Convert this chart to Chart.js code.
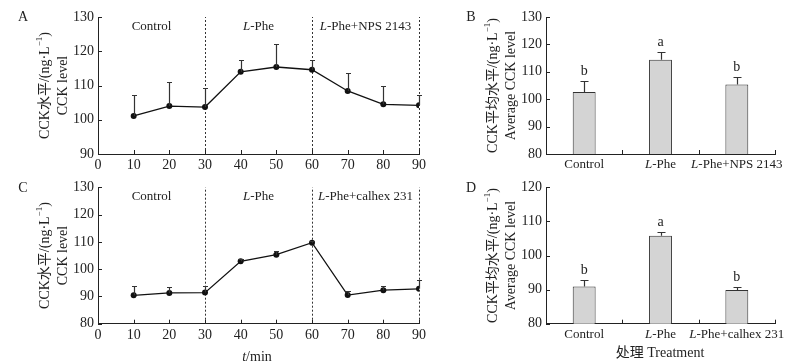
<!DOCTYPE html>
<html lang="zh-CN">
<head>
<meta charset="UTF-8">
<title>CCK level</title>
<script src="https://cdn.jsdelivr.net/npm/chart.js"></script>
<style>
  body { margin: 0; background: #fff; }
  .panel { position: absolute; }
  #boxA { left: 0; top: 0; }
  #boxB { left: 440px; top: 0; }
  #boxC { left: 0; top: 175px; }
  #boxD { left: 440px; top: 175px; }
</style>
</head>
<body>
<div class="panel" id="boxA"><canvas id="chartA" width="440" height="175"></canvas></div>
<div class="panel" id="boxB"><canvas id="chartB" width="365" height="175"></canvas></div>
<div class="panel" id="boxC"><canvas id="chartC" width="440" height="189"></canvas></div>
<div class="panel" id="boxD"><canvas id="chartD" width="365" height="189"></canvas></div>

<script>
// data
const timePoints = [10, 20, 30, 40, 50, 60, 70, 80, 90];
const npsMean = [101.1, 104.0, 103.7, 114.0, 115.4, 114.6, 108.4, 104.5, 104.2];
const npsErr = [6.2, 7.0, 5.5, 3.4, 6.6, 2.8, 5.2, 5.5, 3.1];
const calhexMean = [90.4, 91.3, 91.4, 102.9, 105.3, 109.7, 90.5, 92.3, 92.8];
const calhexErr = [3.6, 2.2, 2.6, 0.8, 1.2, 0.8, 1.5, 1.6, 3.2];

const phaseBounds = [30, 60, 90];
const phaseCenters = [15, 45, 75];
const phasesA = ['Control', 'L-Phe', 'L-Phe+NPS 2143'];
const phasesC = ['Control', 'L-Phe', 'L-Phe+calhex 231'];

const treatmentsB = ['Control', 'L-Phe', 'L-Phe+NPS 2143'];
const avgNps = [102.6, 114.4, 105.4];
const avgNpsErr = [3.9, 2.8, 2.6];
const lettersB = ['b', 'a', 'b'];

const treatmentsD = ['Control', 'L-Phe', 'L-Phe+calhex 231'];
const avgCalhex = [90.9, 105.8, 89.9];
const avgCalhexErr = [1.8, 1.1, 0.9];
const lettersD = ['b', 'a', 'b'];

const SERIF = "'Liberation Serif', 'Times New Roman', 'Noto Sans CJK SC', serif";
const INK = '#222';

// text with italic "L" in "L-Phe" and optional superscript pieces
function segmentsFor(text) {
  if (text.startsWith('L-')) return [{ t: 'L', italic: true }, { t: text.slice(1) }];
  return [{ t: text }];
}

function drawRich(ctx, segs, x, y, size, align) {
  const fontOf = s => (s.italic ? 'italic ' : '') + (s.sup ? Math.round(size * 0.65) : size) + 'px ' + SERIF;
  let total = 0;
  segs.forEach(s => { ctx.font = fontOf(s); total += ctx.measureText(s.t).width; });
  let cx = align === 'center' ? x - total / 2 : (align === 'right' ? x - total : x);
  ctx.textAlign = 'left';
  ctx.textBaseline = 'middle';
  segs.forEach(s => {
    ctx.font = fontOf(s);
    ctx.fillText(s.t, cx, s.sup ? y - size * 0.35 : y);
    cx += ctx.measureText(s.t).width;
  });
}

function drawYTitle(ctx, area, lines, xs) {
  const cy = (area.top + area.bottom) / 2;
  lines.forEach((segs, i) => {
    ctx.save();
    ctx.translate(xs[i], cy);
    ctx.rotate(-Math.PI / 2);
    drawRich(ctx, segs, 0, 0, 14, 'center');
    ctx.restore();
  });
}

// inward tick marks on both axes
function inwardTicks(chart, barEdges) {
  const ctx = chart.ctx;
  const y = chart.scales.y, x = chart.scales.x;
  const a = chart.chartArea;
  ctx.save();
  ctx.strokeStyle = INK;
  ctx.lineWidth = 1;
  ctx.beginPath();
  y.ticks.forEach(t => {
    const py = Math.round(y.getPixelForValue(t.value)) + 0.5;
    ctx.moveTo(a.left, py); ctx.lineTo(a.left + 4, py);
  });
  if (barEdges) {
    const n = chart.data.labels.length;
    for (let i = 1; i <= n; i++) {
      const px = Math.round(x.getPixelForValue(i - 0.5)) + 0.5;
      ctx.moveTo(px, a.bottom); ctx.lineTo(px, a.bottom - 4);
    }
  } else {
    x.ticks.forEach(t => {
      const px = Math.round(x.getPixelForValue(t.value)) + 0.5;
      ctx.moveTo(px, a.bottom); ctx.lineTo(px, a.bottom - 4);
    });
  }
  ctx.stroke();
  ctx.restore();
}

function errorBars(chart, means, errs, capHalf, xs) {
  const ctx = chart.ctx;
  const x = chart.scales.x, y = chart.scales.y;
  ctx.save();
  ctx.strokeStyle = '#333';
  ctx.lineWidth = 1.2;
  ctx.beginPath();
  means.forEach((m, i) => {
    const px = Math.round(x.getPixelForValue(xs[i])) + 0.5;
    const p0 = y.getPixelForValue(m);
    const p1 = Math.round(y.getPixelForValue(m + errs[i])) + 0.5;
    ctx.moveTo(px, p0); ctx.lineTo(px, p1);
    ctx.moveTo(px - capHalf, p1); ctx.lineTo(px + capHalf, p1);
  });
  ctx.stroke();
  ctx.restore();
}

function yAxis(min, max, width) {
  return {
    min: min, max: max,
    ticks: { stepSize: 10, color: INK, font: { family: SERIF, size: 14 }, padding: 4 },
    grid: { drawOnChartArea: false, drawTicks: false },
    border: { color: INK, width: 1 },
    afterFit: s => { s.width = width; }
  };
}

const titleTime = [[{ t: 'CCK水平/(ng·L' }, { t: '−1', sup: true }, { t: ')' }], [{ t: 'CCK level' }]];
const titleAvg = [[{ t: 'CCK平均水平/(ng·L' }, { t: '−1', sup: true }, { t: ')' }], [{ t: 'Average CCK level' }]];

function makeTimeChart(id, opts) {
  const overlay = {
    id: 'overlay' + id,
    beforeDatasetsDraw(chart) {
      const ctx = chart.ctx, a = chart.chartArea, x = chart.scales.x;
      ctx.save();
      ctx.strokeStyle = '#333';
      ctx.lineWidth = 1;
      ctx.setLineDash([2, 2]);
      ctx.beginPath();
      phaseBounds.forEach(b => {
        const px = Math.round(x.getPixelForValue(b)) + 0.5;
        ctx.moveTo(px, a.bottom); ctx.lineTo(px, a.top);
      });
      ctx.stroke();
      ctx.restore();
    },
    afterDatasetsDraw(chart) {
      errorBars(chart, opts.mean, opts.err, 2.5, timePoints);
    },
    afterDraw(chart) {
      const ctx = chart.ctx, a = chart.chartArea, x = chart.scales.x;
      inwardTicks(chart, false);
      ctx.save();
      ctx.fillStyle = INK;
      opts.phases.forEach((p, i) => {
        drawRich(ctx, segmentsFor(p), x.getPixelForValue(phaseCenters[i]), a.top + 9.5, 13, 'center');
      });
      drawYTitle(ctx, a, titleTime, [45, 63]);
      drawRich(ctx, [{ t: opts.letter }], 23, opts.letterY, 14, 'center');
      if (opts.xTitle) {
        drawRich(ctx, [{ t: 't', italic: true }, { t: '/min' }], 257, a.bottom + 34, 14, 'center');
      }
      ctx.restore();
    }
  };
  return new Chart(document.getElementById(id), {
    type: 'line',
    data: {
      datasets: [{
        data: timePoints.map((t, i) => ({ x: t, y: opts.mean[i] })),
        borderColor: '#111',
        borderWidth: 1.3,
        pointRadius: 3,
        pointBackgroundColor: '#111',
        pointBorderWidth: 0,
        tension: 0
      }]
    },
    options: {
      responsive: false,
      animation: false,
      devicePixelRatio: 1,
      layout: { padding: { left: 0, top: opts.top, right: 21, bottom: 0 } },
      plugins: { legend: { display: false }, tooltip: { enabled: false } },
      scales: {
        x: {
          type: 'linear', min: 0, max: 90,
          ticks: { stepSize: 10, color: INK, font: { family: SERIF, size: 14 }, padding: 3 },
          grid: { drawOnChartArea: false, drawTicks: false },
          border: { color: INK, width: 1 },
          afterFit: s => { s.height = opts.xHeight; }
        },
        y: yAxis(opts.min, opts.max, 98)
      }
    },
    plugins: [overlay]
  });
}

function makeBarChart(id, opts) {
  const overlay = {
    id: 'overlay' + id,
    afterDatasetsDraw(chart) {
      errorBars(chart, opts.mean, opts.err, 4, opts.labels.map((_, i) => i));
    },
    afterDraw(chart) {
      const ctx = chart.ctx, a = chart.chartArea, x = chart.scales.x, y = chart.scales.y;
      inwardTicks(chart, true);
      ctx.save();
      ctx.fillStyle = INK;
      opts.labels.forEach((l, i) => {
        const px = x.getPixelForValue(i);
        drawRich(ctx, segmentsFor(l), px, a.bottom + 10.5, 13, 'center');
        drawRich(ctx, [{ t: opts.letters[i] }], px, y.getPixelForValue(opts.mean[i] + opts.err[i]) - 10, 14, 'center');
      });
      drawYTitle(ctx, a, titleAvg, [53, 71]);
      drawRich(ctx, [{ t: opts.letter }], 31, opts.letterY, 14, 'center');
      if (opts.xTitle) {
        drawRich(ctx, [{ t: '处理 Treatment' }], 220, a.bottom + 30, 14, 'center');
      }
      ctx.restore();
    }
  };
  return new Chart(document.getElementById(id), {
    type: 'bar',
    data: {
      labels: opts.labels,
      datasets: [{
        data: opts.mean,
        backgroundColor: '#d4d4d4',
        borderColor: '#333',
        borderWidth: 1,
        barPercentage: 0.3,
        categoryPercentage: 1
      }]
    },
    options: {
      responsive: false,
      animation: false,
      devicePixelRatio: 1,
      layout: { padding: { left: 0, top: opts.top, right: 30, bottom: 0 } },
      plugins: { legend: { display: false }, tooltip: { enabled: false } },
      scales: {
        x: {
          ticks: { display: false },
          grid: { drawOnChartArea: false, drawTicks: false },
          border: { color: INK, width: 1 },
          afterFit: s => { s.height = opts.xHeight; }
        },
        y: yAxis(opts.min, opts.max, 106)
      }
    },
    plugins: [overlay]
  });
}

makeTimeChart('chartA', { mean: npsMean, err: npsErr, phases: phasesA, min: 90, max: 130, top: 17, xHeight: 21, letter: 'A', letterY: 17, xTitle: false });
makeTimeChart('chartC', { mean: calhexMean, err: calhexErr, phases: phasesC, min: 80, max: 130, top: 11.7, xHeight: 40.3, letter: 'C', letterY: 13, xTitle: true });
makeBarChart('chartB', { labels: treatmentsB, mean: avgNps, err: avgNpsErr, letters: lettersB, min: 80, max: 130, top: 17, xHeight: 21, letter: 'B', letterY: 17, xTitle: false });
makeBarChart('chartD', { labels: treatmentsD, mean: avgCalhex, err: avgCalhexErr, letters: lettersD, min: 80, max: 120, top: 11.7, xHeight: 40.3, letter: 'D', letterY: 13, xTitle: true });
</script>
</body>
</html>
